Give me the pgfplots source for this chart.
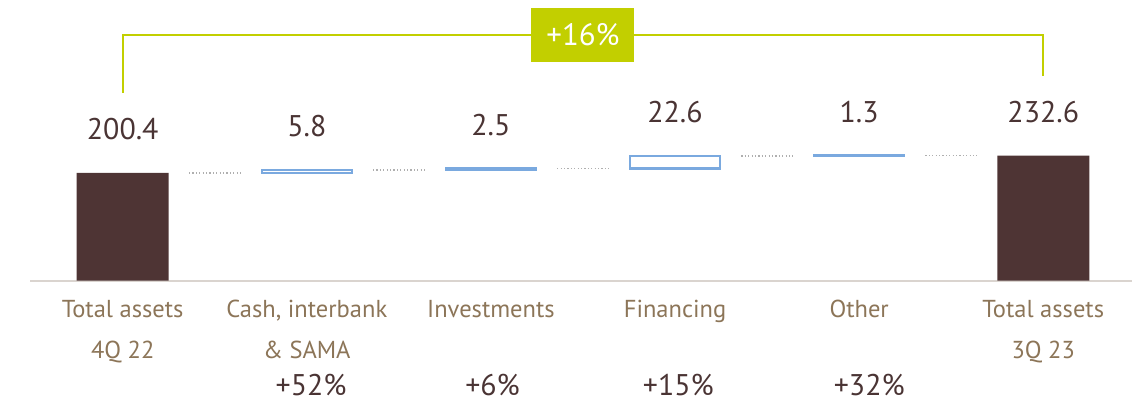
\documentclass[border=0pt]{standalone}
\usepackage{pgfplots}
\pgfplotsset{compat=1.18}
\usepackage{pgfplotstable}
\usepackage{fontspec}
\setmainfont{PT Sans}
\definecolor{barbrown}{RGB}{78,52,52}
\definecolor{valtext}{RGB}{74,52,52}
\definecolor{tanc}{RGB}{140,117,88}
\definecolor{incblue}{RGB}{122,169,223}
\definecolor{lime}{RGB}{194,207,0}
\definecolor{axisgray}{RGB}{218,212,207}
\definecolor{dotgray}{RGB}{175,175,175}

\pgfplotstableread{
x base inc
1 200.4 5.8
2 206.2 2.5
3 208.7 22.6
4 231.3 1.3
}\increments
\pgfplotstableread{
x total
0 200.4
5 232.6
}\totals
\pgfplotstableread{
x top lab
0 200.4 200.4
1 206.2 5.8
2 208.7 2.5
3 231.3 22.6
4 232.6 1.3
5 232.6 232.6
}\labels
\pgfplotstableread{
x y
0.36 200.4
0.64 200.4
nan nan
1.36 206.2
1.64 206.2
nan nan
2.36 208.7
2.64 208.7
nan nan
3.36 231.3
3.64 231.3
nan nan
4.36 232.6
4.64 232.6
}\connectors

\pgfplotsset{
  base/.style={
    scale only axis, width=551bp, height=140.35bp,
    xmin=-0.5035, xmax=5.482, ymin=0, ymax=521.7,
    clip=false,
  }
}

\begin{document}
\begin{tikzpicture}
\useasboundingbox (-15bp,-60.65bp) rectangle (551bp,140.35bp);
% floating increments (stacked)
\begin{axis}[base, ybar stacked, bar width=45bp, axis lines=none, xtick=\empty, ytick=\empty]
  \addplot[draw=none, fill=none] table[x=x, y=base] {\increments};
  \addplot[draw=incblue, fill=white, line width=1.1bp] table[x=x, y=inc] {\increments};
\end{axis}
% totals, labels, connectors
\begin{axis}[base,
    axis x line=bottom, axis y line=none,
    x axis line style={-, draw=axisgray, line width=1bp},
    ytick=\empty,
    xtick={0,1,2,3,4,5},
    major tick length=0pt,
    xticklabels={{Total assets\\4Q 22},{Cash, interbank\\\& SAMA},Investments,Financing,Other,{Total assets\\3Q 23}},
    xticklabel style={align=center, anchor=north, font=\fontsize{12.3}{20.8}\selectfont, text=tanc, inner sep=0pt, yshift=-9.5bp},
    unbounded coords=jump,
  ]
  \addplot[ybar, bar width=46bp, bar shift=0pt, fill=barbrown, draw=none] table[x=x, y=total] {\totals};
  \addplot[dotgray, line width=0.8bp, dash pattern=on 0.6bp off 1.1bp, mark=none] table[x=x, y=y] {\connectors};
  \addplot[draw=none, mark=none, nodes near coords, point meta=explicit symbolic,
    nodes near coords style={anchor=base, yshift=16.7bp, font=\fontsize{15}{18}\selectfont, text=valtext, inner sep=0pt}]
    table[x=x, y=top, meta=lab] {\labels};
  \draw[lime, line width=1bp] (axis cs:0,348.9) |- (axis cs:5,456.7) -- (axis cs:5,380.5);
  \node[fill=lime, text=white, minimum width=51.5bp, minimum height=27.35bp, inner sep=0pt,
    font=\fontsize{15.5}{18}\selectfont] at (axis cs:2.5,456.7) {+16\%};
  \node[anchor=base, text=valtext, font=\fontsize{15}{18}\selectfont, inner sep=0pt] at (axis cs:1.023,-214) {+52\%};
  \node[anchor=base, text=valtext, font=\fontsize{15}{18}\selectfont, inner sep=0pt] at (axis cs:2.009,-214) {+6\%};
  \node[anchor=base, text=valtext, font=\fontsize{15}{18}\selectfont, inner sep=0pt] at (axis cs:3.018,-214) {+15\%};
  \node[anchor=base, text=valtext, font=\fontsize{15}{18}\selectfont, inner sep=0pt] at (axis cs:4.055,-214) {+32\%};
\end{axis}
\end{tikzpicture}
\end{document}
